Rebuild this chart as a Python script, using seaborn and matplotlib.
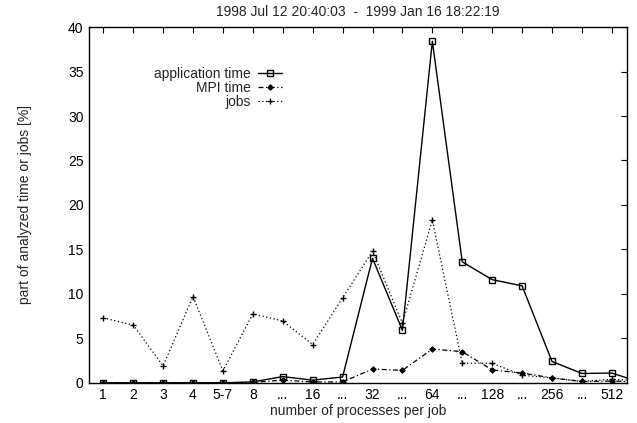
import numpy as np
import pandas as pd
import matplotlib
matplotlib.use("Agg")
import matplotlib.pyplot as plt
import seaborn as sns

# categories (last one lies outside the visible range, line just runs off the edge)
categories = ['1', '2', '3', '4', '5-7', '8', '...', '16', '...', '32', '...',
              '64', '...', '128', '...', '256', '...', '512', '']
app_time = [0, 0, 0, 0, 0, 0.1, 0.7, 0.3, 0.65, 14.0, 5.9, 38.4, 13.6, 11.6,
            10.9, 2.4, 1.05, 1.1, 0.0]
mpi_time = [0, 0, 0, 0, 0, 0.05, 0.3, 0.1, 0.1, 1.55, 1.4, 3.8, 3.5, 1.45,
            1.1, 0.55, 0.15, 0.2, 0.1]
jobs = [7.3, 6.5, 1.9, 9.7, 1.35, 7.75, 6.95, 4.3, 9.55, 14.8, 6.7, 18.3,
        2.2, 2.2, 0.85, 0.55, 0.15, 0.4, 0.2]

df = pd.DataFrame({'pos': np.arange(len(categories)),
                   'app': app_time, 'mpi': mpi_time, 'jobs': jobs})

sns.set_style("white")
plt.rcParams['font.family'] = ['Liberation Sans', 'DejaVu Sans']

fig = plt.figure(figsize=(6.37, 4.23), dpi=100)
ax = fig.add_axes([0.14, 0.095, 0.844, 0.841])

sns.lineplot(data=df, x='pos', y='app', ax=ax, color='black', linewidth=1.0,
             marker='s', markersize=4, markerfacecolor='none',
             markeredgecolor='black', markeredgewidth=1.0, label='application time')
sns.lineplot(data=df, x='pos', y='mpi', ax=ax, color='black', linewidth=0.9,
             linestyle=(0, (4, 2, 1, 2)), marker='D', markersize=2.8,
             markerfacecolor='black', markeredgecolor='black', label='MPI time')
sns.lineplot(data=df, x='pos', y='jobs', ax=ax, color='black', linewidth=0.9,
             linestyle=(0, (1, 2)), marker='+', markersize=5,
             markeredgecolor='black', markeredgewidth=1.0, label='jobs')

ax.set_xlim(-0.47, 17.5)
ax.set_ylim(0, 40)
ax.set_xticks(range(18))
ax.set_xticklabels(categories[:18])
ax.set_yticks(range(0, 41, 5))
ax.tick_params(direction='in', top=True, right=True, length=4, width=0.8,
               labelsize=10, colors='black', pad=4)
for s in ax.spines.values():
    s.set_color('black')
    s.set_linewidth(1.0)

ax.set_xlabel('number of processes per job', fontsize=10, labelpad=1)
ax.set_ylabel('part of analyzed time or jobs [%]', fontsize=10, labelpad=26)
ax.set_title('1998 Jul 12 20:40:03  -  1999 Jan 16 18:22:19', fontsize=10, pad=8)

leg = ax.legend(loc='upper right', bbox_to_anchor=(289 / 637, 1 - 60 / 423),
                bbox_transform=fig.transFigure, frameon=False, markerfirst=False,
                fontsize=10, handlelength=1.75, handletextpad=0.5,
                labelspacing=0.0, borderpad=0)
for t in leg.get_texts():
    t.set_ha('right')
leg._legend_box.align = 'right'

fig.savefig('out.png', dpi=100)
